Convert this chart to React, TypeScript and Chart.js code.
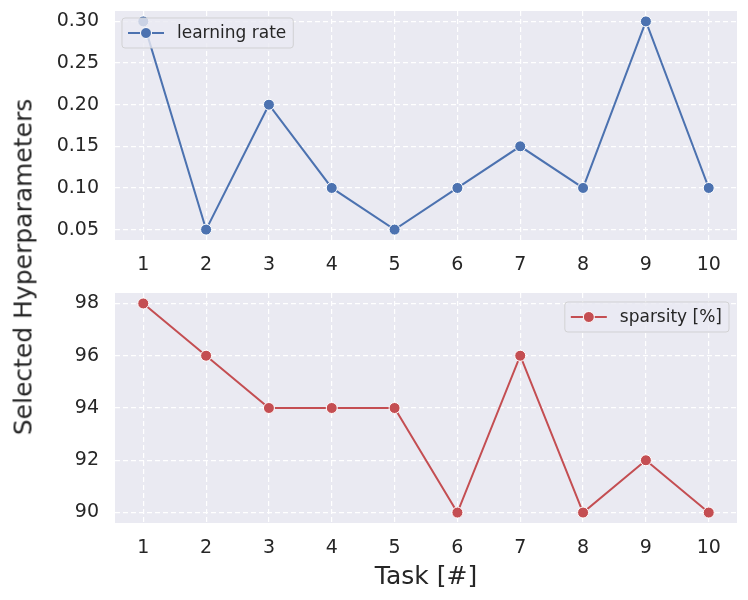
import { useEffect, useRef } from "react";
import { Chart, registerables, type Plugin } from "chart.js";

Chart.register(...registerables);

const tasks = [1, 2, 3, 4, 5, 6, 7, 8, 9, 10];
const learningRate = [0.3, 0.05, 0.2, 0.1, 0.05, 0.1, 0.15, 0.1, 0.3, 0.1];
const sparsity = [98, 96, 94, 94, 94, 90, 96, 90, 92, 90];
const lrTicks = [0.05, 0.1, 0.15, 0.2, 0.25, 0.3];
const spTicks = [90, 92, 94, 96, 98];

const BLUE = "#4c72b0";
const RED = "#c44e52";
const INK = "#262626";
const FONT = "'DejaVu Sans', sans-serif";

// fondo gris del área de trazado (estilo seaborn darkgrid)
const panelBg: Plugin = {
  id: "panelBg",
  beforeDraw(chart) {
    const { ctx, chartArea: a } = chart;
    ctx.save();
    ctx.fillStyle = "#eaeaf2";
    ctx.fillRect(a.left, a.top, a.right - a.left, a.bottom - a.top);
    ctx.restore();
  },
};

// leyenda tipo matplotlib dentro del panel
const legendBox: Plugin = {
  id: "legendBox",
  afterDatasetsDraw(chart, _args, opts: any) {
    const { ctx, chartArea: a } = chart;
    const ds = chart.data.datasets[0] as any;
    ctx.save();
    ctx.font = `17px ${FONT}`;
    const tw = ctx.measureText(ds.label).width;
    const w = 55 + tw + 7;
    const h = 30;
    const x = opts.corner === "tr" ? a.right - 8 - w : a.left + 7;
    const y = opts.corner === "tr" ? a.top + 9 : a.top + 7;
    ctx.beginPath();
    ctx.roundRect(x, y, w, h, 3);
    ctx.fillStyle = "rgba(234,234,242,0.8)";
    ctx.fill();
    ctx.strokeStyle = "rgba(204,204,204,0.8)";
    ctx.lineWidth = 1;
    ctx.stroke();
    const cy = y + h / 2;
    ctx.strokeStyle = ds.borderColor;
    ctx.lineWidth = 2;
    ctx.beginPath();
    ctx.moveTo(x + 6, cy);
    ctx.lineTo(x + 42, cy);
    ctx.stroke();
    ctx.beginPath();
    ctx.arc(x + 24, cy, 5.5, 0, Math.PI * 2);
    ctx.fillStyle = ds.borderColor;
    ctx.fill();
    ctx.strokeStyle = "#ffffff";
    ctx.lineWidth = 1;
    ctx.stroke();
    ctx.fillStyle = INK;
    ctx.textBaseline = "middle";
    ctx.fillText(ds.label, x + 55, cy + 1);
    ctx.restore();
  },
};

type PanelProps = {
  label: string;
  values: number[];
  color: string;
  yTicks: number[];
  yMin: number;
  yMax: number;
  decimals: number;
  height: number;
  padTop: number;
  axisHeight: number;
  corner: "tl" | "tr";
  xTitle?: string;
};

function Panel(p: PanelProps) {
  const canvasRef = useRef<HTMLCanvasElement>(null);
  const chartRef = useRef<Chart | null>(null);

  useEffect(() => {
    if (!canvasRef.current) return;
    const grid = {
      color: "#ffffff",
      lineWidth: 1.2,
      drawTicks: false,
    };
    chartRef.current = new Chart(canvasRef.current, {
      type: "line",
      data: {
        datasets: [
          {
            label: p.label,
            data: tasks.map((t, i) => ({ x: t, y: p.values[i] })),
            borderColor: p.color,
            backgroundColor: p.color,
            borderWidth: 2,
            pointRadius: 5.5,
            pointBorderColor: "#ffffff",
            pointBorderWidth: 1,
            pointBackgroundColor: p.color,
            tension: 0,
          },
        ],
      },
      options: {
        animation: false,
        responsive: false,
        layout: { padding: { top: p.padTop, right: 11, left: 0, bottom: 0 } },
        scales: {
          x: {
            type: "linear",
            min: 0.55,
            max: 10.45,
            afterBuildTicks: (s) => {
              s.ticks = tasks.map((v) => ({ value: v }));
            },
            afterFit: (s) => {
              s.height = p.axisHeight;
              s.paddingLeft = 0;
              s.paddingRight = 0;
            },
            ticks: {
              color: INK,
              font: { family: FONT, size: 19 },
              padding: 14,
              callback: (v) => String(v),
            },
            grid: { ...grid },
            border: { display: false, dash: [5, 3] },
            title: {
              display: !!p.xTitle,
              text: p.xTitle ?? "",
              color: INK,
              font: { family: FONT, size: 25 },
              padding: { bottom: 8, top: 0 },
            },
          },
          y: {
            type: "linear",
            min: p.yMin,
            max: p.yMax,
            afterBuildTicks: (s) => {
              s.ticks = p.yTicks.map((v) => ({ value: v }));
            },
            afterFit: (s) => {
              s.width = 115;
              s.paddingTop = 0;
              s.paddingBottom = 0;
            },
            ticks: {
              color: INK,
              font: { family: FONT, size: 19 },
              padding: 16,
              callback: (v) => Number(v).toFixed(p.decimals),
            },
            grid: { ...grid },
            border: { display: false, dash: [5, 3] },
          },
        },
        plugins: {
          legend: { display: false },
          tooltip: { enabled: false },
          legendBox: { corner: p.corner },
        } as any,
      },
      plugins: [panelBg, legendBox],
    });
    return () => {
      chartRef.current?.destroy();
      chartRef.current = null;
    };
  }, []);

  return <canvas ref={canvasRef} width={748} height={p.height} style={{ display: "block" }} />;
}

export default function App() {
  return (
    <div
      style={{
        position: "absolute",
        left: 0,
        top: 0,
        width: 748,
        height: 600,
        background: "#ffffff",
        fontFamily: FONT,
      }}
    >
      <Panel
        label="learning rate"
        values={learningRate}
        color={BLUE}
        yTicks={lrTicks}
        yMin={0.0375}
        yMax={0.3125}
        decimals={2}
        height={280}
        padTop={11}
        axisHeight={40}
        corner="tl"
      />
      <Panel
        label="sparsity [%]"
        values={sparsity}
        color={RED}
        yTicks={spTicks}
        yMin={89.6}
        yMax={98.4}
        decimals={0}
        height={320}
        padTop={13}
        axisHeight={77}
        corner="tr"
        xTitle="Task [#]"
      />
      <div
        style={{
          position: "absolute",
          left: 23,
          top: 267,
          transform: "translate(-50%, -50%) rotate(-90deg)",
          whiteSpace: "nowrap",
          fontSize: 25,
          color: INK,
        }}
      >
        Selected Hyperparameters
      </div>
    </div>
  );
}
